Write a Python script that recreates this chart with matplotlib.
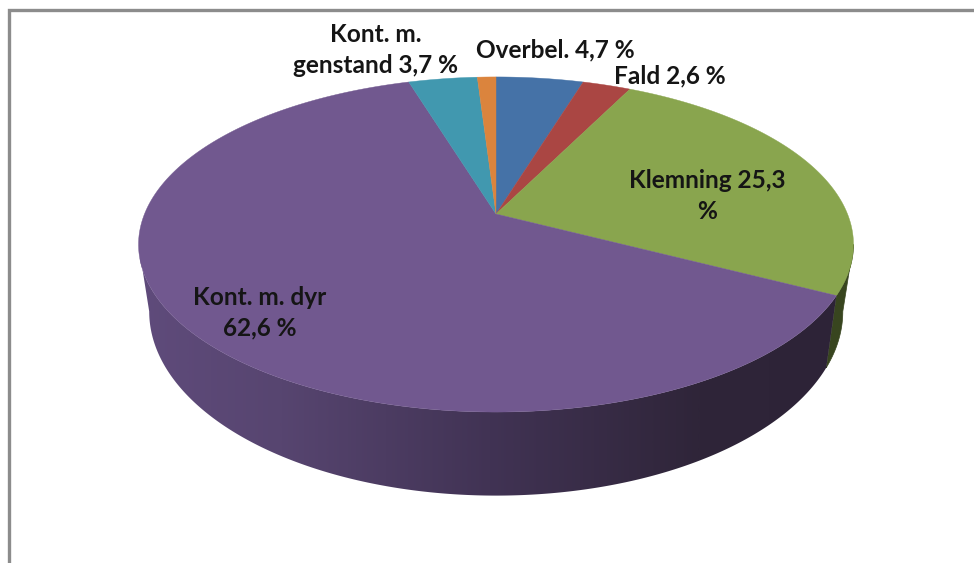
import numpy as np
import matplotlib
matplotlib.use("Agg")
import matplotlib.pyplot as plt
from matplotlib.patches import Polygon
from matplotlib.colors import LinearSegmentedColormap

categories = ["Overbel.", "Fald", "Klemning", "Kont. m. dyr", "Kont. m. genstand", "Andet"]
values = [4.7, 2.6, 25.3, 62.6, 3.7, 1.0]
label_texts = ["Overbel. 4,7 %", "Fald 2,6 %", "Klemning 25,3\n%", "Kont. m. dyr\n62,6 %",
               "Kont. m.\ngenstand 3,7 %", None]
colors = ["#4572A7", "#AA4643", "#89A54E", "#71588F", "#4198AF", "#DB843D"]

fig = plt.figure(figsize=(9.74, 5.63), dpi=100)
ax = fig.add_axes([0, 0, 1, 1])
ax.set_xlim(0, 974)
ax.set_ylim(563, 0)
ax.axis("off")

# chart frame
ax.plot([974, 9, 9], [10, 10, 563], color="#8c8c8c", lw=2.4, solid_joinstyle="miter")

CX, B = 496, 0.182
SIDE = np.arcsin(B)

def top(theta):
    u, v = np.sin(theta), np.cos(theta)
    d = 1 + B * v
    return CX + 351.5 * u / d, 214 - 162 * v / d

def bottom(theta):
    u, v = np.sin(theta), np.cos(theta)
    d = 1 + B * v
    return CX + 341 * u / d, 278 - 178 * v / d

vals = np.array(values, float)
edges = np.concatenate([[0], np.cumsum(vals)]) / vals.sum() * 2 * np.pi

def wall(a, b):
    th = np.linspace(a, b, 300)
    xt, yt = top(th)
    xb, yb = bottom(th)
    return np.column_stack([np.concatenate([xt, xb[::-1]]), np.concatenate([yt, yb[::-1]])])

# green wall, right of the purple one
green = Polygon(wall(np.pi / 2 + SIDE, edges[3]), closed=True, facecolor="#38451f",
                edgecolor="#38451f", lw=0.5, zorder=1)
ax.add_patch(green)

# purple wall with a horizontal gradient
purple_wall = Polygon(wall(edges[3], 1.5 * np.pi - SIDE), closed=True, facecolor="none", edgecolor="none")
ax.add_patch(purple_wall)
cmap = LinearSegmentedColormap.from_list("wall", [(0, "#5f4b7b"), (0.2, "#574570"), (0.5, "#413354"),
                                                  (0.8, "#2f2539"), (1, "#2d2337")])
grad = np.linspace(0, 1, 512).reshape(1, -1)
im = ax.imshow(grad, cmap=cmap, extent=(140, 840, 563, 0), aspect="auto", zorder=2, interpolation="bilinear")
im.set_clip_path(purple_wall)
ax.set_xlim(0, 974)
ax.set_ylim(563, 0)

# top face
for k in range(len(vals)):
    th = np.linspace(edges[k], edges[k + 1], 200)
    xs, ys = top(th)
    pts = [(CX, 214)] + list(zip(xs, ys))
    ax.add_patch(Polygon(pts, closed=True, facecolor=colors[k], edgecolor=colors[k], lw=0.3, zorder=3))

# labels
font = dict(family="Lato", fontsize=17.6, fontweight="bold", color="#151515",
            ha="center", va="center", linespacing=1.4, zorder=5)
positions = [(555, 50), (670, 76), (707, 196), (260, 313), (376, 50)]
for (x, y), txt in zip(positions, label_texts):
    ax.text(x, y, txt, **font)

fig.savefig("out.png", dpi=100, facecolor="white")
